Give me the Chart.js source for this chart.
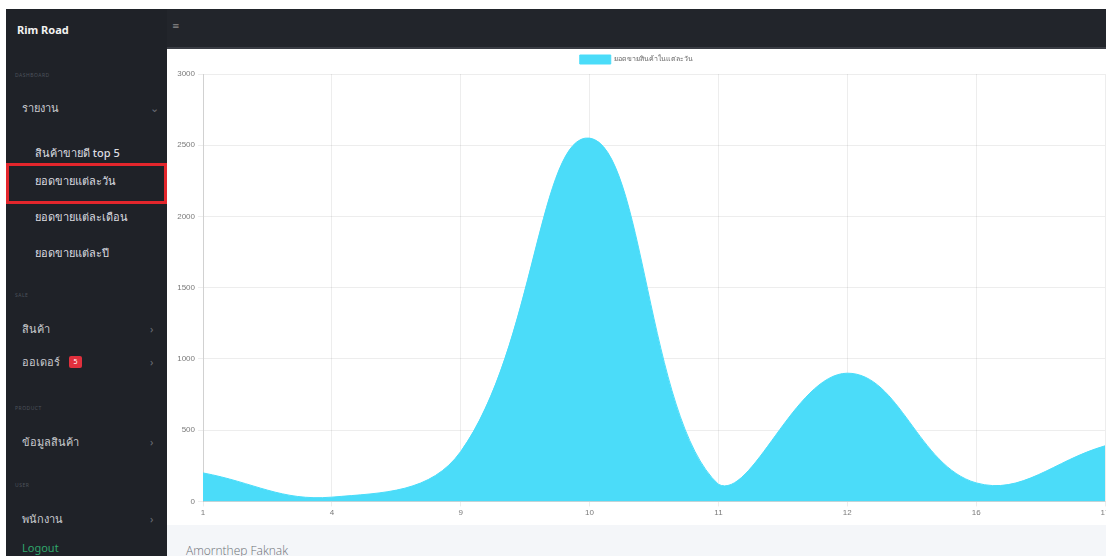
<!DOCTYPE html>
<html>
<head>
<meta charset="utf-8">
<title>ยอดขายแต่ละวัน</title>
<script src="https://cdn.jsdelivr.net/npm/chart.js@4.4.0/dist/chart.umd.min.js"></script>
<style>
  html, body { margin: 0; padding: 0; width: 1106px; height: 556px; overflow: hidden; background: #fff; }
  body { font-family: "Noto Sans", "DejaVu Sans", sans-serif; position: relative; }
  .sidebar { position: absolute; left: 6px; top: 9px; width: 161px; height: 547px; background: #1f2228; }
  .topbar { position: absolute; left: 167px; top: 9px; width: 939px; height: 38px; background: #22252b; border-bottom: 2px solid #3a3d44; }
  .burger { position: absolute; left: 5px; top: 13px; width: 6px; height: 8px; color: #888; font-size: 9px; line-height: 8px; }
  .s { position: absolute; white-space: nowrap; line-height: 14px; height: 14px; }
  .brand { left: 11px; top: 14px; color: #f2f2f2; font-weight: bold; font-size: 11px; }
  .head { left: 9px; color: #4d525c; font-size: 5px; letter-spacing: 0.5px; }
  .menu { left: 16px; color: #c9cbcf; font-size: 11px; }
  .sub { left: 29px; color: #dcdde0; font-size: 11px; font-weight: 500; }
  .chev { left: 144px; color: #6a6e76; font-size: 11px; }
  .badge { position: absolute; left: 69px; top: 356px; width: 13px; height: 12px; background: #e0303d; border-radius: 2px; color: #fff; font-size: 7px; line-height: 12px; text-align: center; }
  .mark { position: absolute; left: 6px; top: 163px; width: 155px; height: 35px; border: 3px solid #e3262c; box-sizing: content-box; }
  .logout { left: 16px; color: #2fa66b; font-size: 11px; }
  .card { position: absolute; left: 167px; top: 49px; width: 939px; height: 476px; background: #fff; }
  .chartbox { position: absolute; left: 168px; top: 49px; width: 950px; height: 471px; }
  .footer { position: absolute; left: 167px; top: 525px; width: 939px; height: 31px; background: #f4f6f9; }
  .footer span { position: absolute; left: 19px; top: 17px; color: #6b6f75; font-size: 12px; font-weight: 300; font-family: "Open Sans", "Noto Sans", sans-serif; }
</style>
</head>
<body>
<div class="sidebar">
  <div class="s brand">Rim Road</div>
  <div class="s head" style="top:59px">DASHBOARD</div>
  <div class="s menu" style="top:92px">รายงาน</div>
  <div class="s chev" style="top:92px">&#8964;</div>
  <div class="s sub" style="top:137px">สินค้าขายดี top 5</div>
  <div class="s sub" style="top:165px">ยอดขายแต่ละวัน</div>
  <div class="s sub" style="top:201px">ยอดขายแต่ละเดือน</div>
  <div class="s sub" style="top:237px">ยอดขายแต่ละปี</div>
  <div class="s head" style="top:279px">SALE</div>
  <div class="s menu" style="top:313px">สินค้า</div>
  <div class="s chev" style="top:313px">&rsaquo;</div>
  <div class="s menu" style="top:346px">ออเดอร์</div>
  <div class="s chev" style="top:346px">&rsaquo;</div>
  <div class="s head" style="top:392px">PRODUCT</div>
  <div class="s menu" style="top:426px">ข้อมูลสินค้า</div>
  <div class="s chev" style="top:426px">&rsaquo;</div>
  <div class="s head" style="top:469px">USER</div>
  <div class="s menu" style="top:503px">พนักงาน</div>
  <div class="s chev" style="top:503px">&rsaquo;</div>
  <div class="s logout" style="top:532px">Logout</div>
</div>
<div class="badge">5</div>
<div class="mark"></div>
<div class="topbar"><div class="burger">&#8801;</div></div>
<div class="card"></div>
<div class="chartbox"><canvas id="salesChart"></canvas></div>
<div class="footer"><span>Amornthep Faknak</span></div>

<script>
// ยอดขายรายวัน
const seriesName = "ยอดขายสินค้าในแต่ละวัน";
const days = ["1", "4", "9", "10", "11", "12", "16", "17"];
const sales = [200, 30, 350, 2550, 120, 900, 130, 390];
const yMax = 3000;
const yStep = 500;

const gridColor = "rgba(0,0,0,0.07)";
const tickColor = "#7a7a7a";

let salesChart = new Chart(document.getElementById("salesChart"), {
  type: "line",
  data: {
    labels: days,
    datasets: [
      {
        label: seriesName,
        data: sales,
        backgroundColor: "#4bdcf9",
        borderColor: "#4bdcf9",
        borderWidth: 1,
        fill: "origin",
        tension: 0.4,
        pointRadius: 0,
      },
    ],
  },
  options: {
    responsive: true,
    maintainAspectRatio: false,
    animation: false,
    layout: { padding: { left: 0, right: 13, top: 0, bottom: 0 } },
    plugins: {
      legend: {
        labels: {
          boxWidth: 31,
          boxHeight: 9,
          padding: 6,
          color: "#666",
          font: { size: 7 },
        },
      },
      tooltip: { enabled: false },
    },
    scales: {
      x: {
        grid: { color: gridColor, tickLength: 5 },
        border: { color: "rgba(0,0,0,0.12)" },
        ticks: { color: tickColor, font: { size: 8 }, padding: 2, maxRotation: 0 },
      },
      y: {
        min: 0,
        max: yMax,
        afterFit: function (scale) {
          scale.width = 35;
        },
        grid: { color: gridColor, tickLength: 5 },
        border: { color: "rgba(0,0,0,0.12)" },
        ticks: {
          stepSize: yStep,
          color: tickColor,
          font: { size: 8 },
          padding: 3,
          callback: function (value) {
            return String(value);
          },
        },
      },
    },
  },
});
</script>
</body>
</html>
